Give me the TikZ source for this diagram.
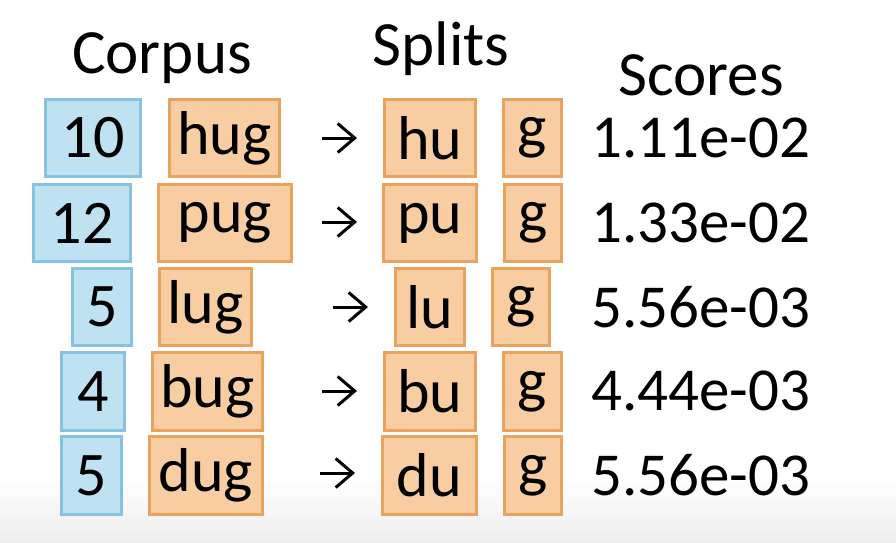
\documentclass[tikz,border=0pt]{standalone}
\usepackage{fontspec}
\setmainfont{Carlito}
\usetikzlibrary{arrows.meta}
\definecolor{bluefill}{HTML}{BFE2F2}
\definecolor{blueline}{HTML}{86C3E0}
\definecolor{orfill}{HTML}{F8CDA2}
\definecolor{orline}{HTML}{E9A35E}
\begin{document}
\begin{tikzpicture}[x=1pt,y=-1pt,
  every node/.style={font=\fontsize{62}{70}\selectfont, text=black},
  countbox/.style={draw=blueline, fill=bluefill, line width=3pt, inner sep=0pt},
  wordbox/.style={draw=orline, fill=orfill, line width=3pt, inner sep=0pt},
  arr/.style={line width=3pt, -{Straight Barb[length=17pt,width=29pt]}},
  score/.style={anchor=west, inner sep=0pt, font=\fontsize{61}{70}\selectfont},
  header/.style={anchor=base, inner sep=0pt, font=\fontsize{63}{70}\selectfont}]
\useasboundingbox (0,0) rectangle (896,542);
\fill[white] (0,0) rectangle (896,542);
\shade[top color=white, bottom color=black!7] (0,478) rectangle (896,542);
% headers
\node[header] (hc) at (162,73) {Corpus};
\node[header] (hs) at (441,65) {Splits};
\node[header] (hsc) at (701,95) {Scores};
% Row 1
\node[countbox, minimum width=95pt, minimum height=77pt] (c1) at (93,138) {10};
\node[wordbox, minimum width=110pt, minimum height=77pt] (w1) at (224.5,138) {hug};
\node[wordbox, minimum width=91pt, minimum height=77pt] (p1) at (430,138) {hu};
\node[wordbox, minimum width=58pt, minimum height=77pt] (q1) at (532.5,138) {g};
\node[score] (s1) at (591,138) {1.11e-02};
\coordinate (a1s) at (322,138); \coordinate (a1e) at (357,138);
\draw[arr] (a1s) -- (a1e);
% Row 2
\node[countbox, minimum width=97pt, minimum height=77pt] (c2) at (82,223) {12};
\node[wordbox, minimum width=133pt, minimum height=77pt] (w2) at (225,223) {pug};
\node[wordbox, minimum width=93pt, minimum height=77pt] (p2) at (430,223) {pu};
\node[wordbox, minimum width=57pt, minimum height=77pt] (q2) at (533,223) {g};
\node[score] (s2) at (591,223) {1.33e-02};
\coordinate (a2s) at (322,222); \coordinate (a2e) at (357,222);
\draw[arr] (a2s) -- (a2e);
% Row 3
\node[countbox, minimum width=59pt, minimum height=77pt] (c3) at (102,307) {5};
\node[wordbox, minimum width=92pt, minimum height=77pt] (w3) at (205.5,307) {lug};
\node[wordbox, minimum width=69pt, minimum height=77pt] (p3) at (430,307) {lu};
\node[wordbox, minimum width=57pt, minimum height=77pt] (q3) at (521,307) {g};
\node[score] (s3) at (591,307) {5.56e-03};
\coordinate (a3s) at (333,307); \coordinate (a3e) at (368,307);
\draw[arr] (a3s) -- (a3e);
% Row 4
\node[countbox, minimum width=63pt, minimum height=78pt] (c4) at (93,391.5) {4};
\node[wordbox, minimum width=110pt, minimum height=78pt] (w4) at (207.5,391.5) {bug};
\node[wordbox, minimum width=91pt, minimum height=78pt] (p4) at (430,391.5) {bu};
\node[wordbox, minimum width=58pt, minimum height=78pt] (q4) at (532.5,391.5) {g};
\node[score] (s4) at (591,391) {4.44e-03};
\coordinate (a4s) at (322,391); \coordinate (a4e) at (357,391);
\draw[arr] (a4s) -- (a4e);
% Row 5
\node[countbox, minimum width=60pt, minimum height=78pt] (c5) at (91.5,475.5) {5};
\node[wordbox, minimum width=113pt, minimum height=78pt] (w5) at (206,475.5) {dug};
\node[wordbox, minimum width=94pt, minimum height=78pt] (p5) at (429.5,475.5) {du};
\node[wordbox, minimum width=57pt, minimum height=78pt] (q5) at (533,475.5) {g};
\node[score] (s5) at (591,475) {5.56e-03};
\coordinate (a5s) at (320,473); \coordinate (a5e) at (355,473);
\draw[arr] (a5s) -- (a5e);
\end{tikzpicture}
\end{document}
